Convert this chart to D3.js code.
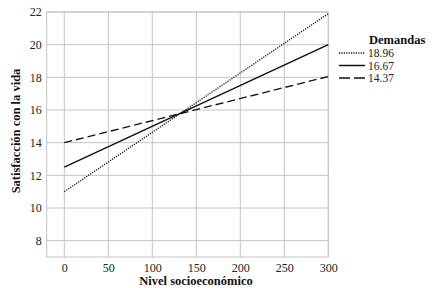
<!DOCTYPE html>
<html><head><meta charset="utf-8">
<script src="https://cdn.jsdelivr.net/npm/d3@7"></script>
<style>body{margin:0;background:#fff}svg{display:block}
text{font-family:"Liberation Serif","DejaVu Serif","Times New Roman",serif}</style>
</head><body>
<script>
const xTicks = [0, 50, 100, 150, 200, 250, 300];
const yTicks = [8, 10, 12, 14, 16, 18, 20, 22];
const seriesNames = ["18.96", "16.67", "14.37"];
const xValues = [0, 300];
const seriesValues = [
  [11.0, 21.9],
  [12.5, 20.0],
  [14.0, 18.05]
];
const dashes = ["1.2,1.2", null, "8,4"];

const W = 434, H = 288;
const svg = d3.select("body").append("svg").attr("width", W).attr("height", H);
const x = d3.scaleLinear().domain([-20, 300]).range([46.7, 328.3]);
const y = d3.scaleLinear().domain([7, 22]).range([257, 12]);
const grid = "#c4c4c4";

const g = svg.append("g");
g.selectAll(".vg").data(xTicks).join("line")
  .attr("x1", d => x(d)).attr("x2", d => x(d)).attr("y1", y(22)).attr("y2", y(7))
  .attr("stroke", grid).attr("stroke-width", 1);
g.selectAll(".hg").data(yTicks).join("line")
  .attr("x1", x(-20)).attr("x2", x(300)).attr("y1", d => y(d)).attr("y2", d => y(d))
  .attr("stroke", grid).attr("stroke-width", 1);
g.append("rect").attr("x", x(-20)).attr("y", y(22)).attr("width", x(300) - x(-20)).attr("height", y(7) - y(22))
  .attr("fill", "none").attr("stroke", grid).attr("stroke-width", 1);

const xa = svg.append("g").attr("transform", `translate(0,${y(7)})`)
  .call(d3.axisBottom(x).tickValues(xTicks).tickSize(0).tickPadding(6));
const ya = svg.append("g").attr("transform", `translate(${x(-20)},0)`)
  .call(d3.axisLeft(y).tickValues(yTicks).tickSize(0).tickPadding(5));
[xa, ya].forEach(a => {
  a.attr("font-family", null);
  a.select(".domain").remove();
  a.selectAll("text").attr("font-size", 12).attr("fill", "#222");
});

const line = d3.line().x((d, i) => x(xValues[i])).y(d => y(d));
seriesValues.forEach((vals, i) => {
  svg.append("path").attr("d", line(vals)).attr("fill", "none")
    .attr("stroke", "#111").attr("stroke-width", i === 1 ? 1.5 : 1.3)
    .attr("stroke-dasharray", dashes[i]);
});

svg.append("text").attr("x", 196).attr("y", 285).attr("text-anchor", "middle")
  .attr("font-weight", "bold").attr("font-size", 12.5).attr("fill", "#111")
  .text("Nivel socioeconómico");
svg.append("text").attr("transform", "translate(20,131) rotate(-90)").attr("text-anchor", "middle")
  .attr("font-weight", "bold").attr("font-size", 12.5).attr("fill", "#111")
  .text("Satisfacción con la vida");

const lg = svg.append("g");
lg.append("text").attr("x", 369).attr("y", 44).attr("font-weight", "bold")
  .attr("font-size", 12.5).attr("fill", "#111").text("Demandas");
const rowY = [53, 65.5, 78];
seriesNames.forEach((n, i) => {
  lg.append("line").attr("x1", 339).attr("x2", 365).attr("y1", rowY[i]).attr("y2", rowY[i])
    .attr("stroke", "#111").attr("stroke-width", i === 1 ? 1.5 : 1.3).attr("stroke-dasharray", i === 2 ? "11,4" : dashes[i]);
  lg.append("text").attr("x", 368).attr("y", rowY[i] + 4).attr("font-size", 11.5).attr("fill", "#222").text(n);
});
</script>
</body></html>
